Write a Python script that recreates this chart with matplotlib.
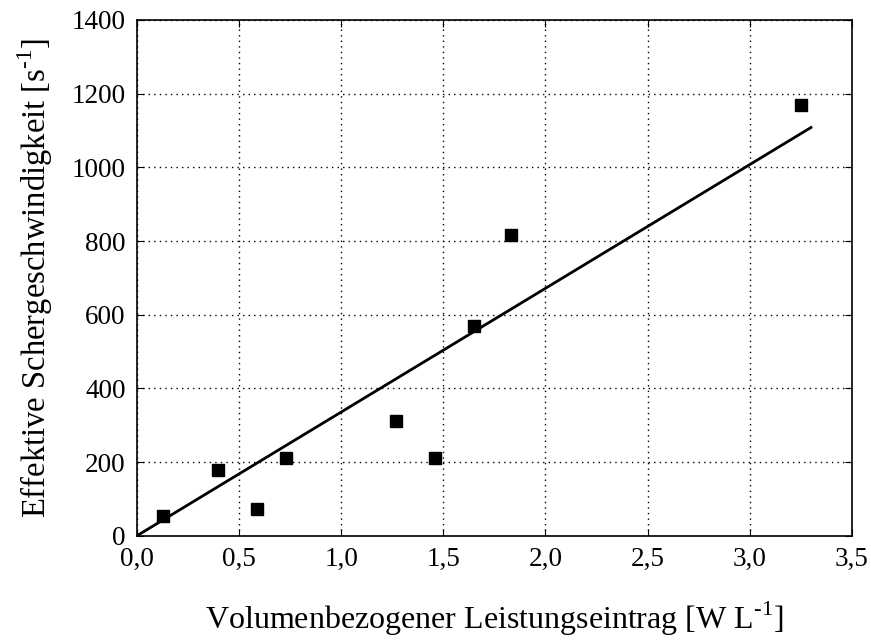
import numpy as np
import matplotlib.pyplot as plt
from matplotlib.ticker import FuncFormatter

# measured points
leistung = [0.13, 0.40, 0.59, 0.73, 1.27, 1.46, 1.65, 1.83, 3.25]
scherrate = [54, 180, 72, 210, 311, 210, 569, 817, 1168]
# regression line (through origin)
fit_x = [0.0, 3.30]
fit_y = [0.0, 1108.0]

plt.rcParams['font.family'] = 'Liberation Serif'
plt.rcParams['mathtext.fontset'] = 'custom'
plt.rcParams['mathtext.rm'] = 'Liberation Serif'

fig = plt.figure(figsize=(8.71, 6.41), dpi=100)
ax = fig.add_axes([0.157, 0.164, 0.821, 0.805])

ax.plot(fit_x, fit_y, color='black', linewidth=2, zorder=3)
ax.plot(leistung, scherrate, 's', color='black', markersize=8.5, zorder=4)

ax.set_xlim(0, 3.5)
ax.set_ylim(0, 1400)
ax.set_xticks(np.arange(0, 3.51, 0.5))
ax.set_yticks(np.arange(0, 1401, 200))
ax.xaxis.set_major_formatter(FuncFormatter(lambda v, p: f'{v:.1f}'.replace('.', ',')))
ax.tick_params(direction='in', top=True, right=True, length=5, labelsize=19.5, pad=8)
ax.grid(True, color='black', linestyle=(0, (1, 3)), linewidth=1)
for s in ax.spines.values():
    s.set_linewidth(1.2)

ax.set_xlabel('Volumenbezogener Leistungseintrag [W L$^{\\mathrm{\u20101}}$]', fontsize=23, labelpad=20)
ax.set_ylabel('Effektive Schergeschwindigkeit [s$^{\\mathrm{\u20101}}$]', fontsize=23.5, labelpad=12)

fig.savefig('out.png', dpi=100)
